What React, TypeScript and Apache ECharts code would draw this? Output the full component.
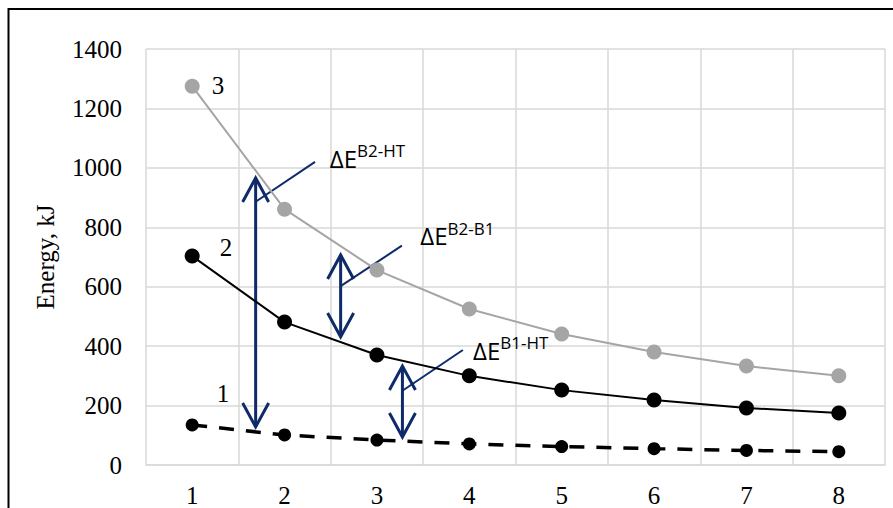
import React, { useEffect, useRef } from "react";
import * as echarts from "echarts";

// ---- data ----
const categories = ["1", "2", "3", "4", "5", "6", "7", "8"];
const curve3Values = [1275, 861, 656, 525, 441, 380, 333, 300];
const curve2Values = [703, 481, 370, 300, 252, 219, 192, 175];
const curve1Values = [135, 101, 84, 71, 62, 55, 49, 45];
const curveNames = ["1", "2", "3"];
const yMin = 0;
const yMax = 1400;
const yStep = 200;

// ---- annotations (data coordinates: x on 0.5..8.5 scale, y in kJ) ----
const arrowX = [1.687, 2.607, 3.276];
const arrowTop = [966, 707, 333];
const arrowBottom = [128, 431, 94];
const leaderStartY = [886, 602, 250];
const leaderEndX = [2.33, 3.27, 3.93];
const leaderEndY = [1020, 738, 387];
const labelX = [2.49, 3.47, 4.04];
const labelY = [1033, 771, 386];
const labelSup = ["B2-HT", "B2-B1", "B1-HT"];

const NAVY = "#0E2A6A";
const SERIF = "'Liberation Serif', 'Times New Roman', serif";
const SANS = "'Open Sans', 'Noto Sans', sans-serif";

function firstLabel(values: number[], name: string, offset: number[], distance: number) {
  return values.map((v, i) =>
    i === 0
      ? {
          value: v,
          label: {
            show: true,
            formatter: name,
            position: "right",
            distance,
            offset,
            fontFamily: SERIF,
            fontSize: 25,
            color: "#000",
          },
        }
      : v
  );
}

export default function App() {
  const ref = useRef<HTMLDivElement>(null);
  useEffect(() => {
    if (!ref.current) return;
    const chart = echarts.init(ref.current, undefined, { renderer: "svg" });
    const annotationData = arrowX.map((x, i) => [
      x,
      arrowTop[i],
      arrowBottom[i],
      leaderStartY[i],
      leaderEndX[i],
      leaderEndY[i],
      labelX[i],
      labelY[i],
    ]);
    chart.setOption({
      animation: false,
      backgroundColor: "#fff",
      grid: { left: 146, right: 8, top: 49, bottom: 43, containLabel: false },
      xAxis: [
        {
          type: "category",
          data: categories,
          boundaryGap: true,
          axisLine: { show: true, lineStyle: { color: "#D9D9D9", width: 1.5 } },
          axisTick: { show: false },
          axisLabel: { fontFamily: SERIF, fontSize: 25, color: "#000", margin: 18 },
          splitLine: { show: true, lineStyle: { color: "#D9D9D9", width: 1.5 } },
        },
        { type: "value", min: 0.5, max: 8.5, show: false },
      ],
      yAxis: {
        type: "value",
        min: yMin,
        max: yMax,
        interval: yStep,
        name: "Energy, kJ",
        nameLocation: "middle",
        nameRotate: 90,
        nameGap: 88,
        nameTextStyle: { fontFamily: SERIF, fontSize: 25, color: "#000" },
        axisLine: { show: false },
        axisTick: { show: false },
        axisLabel: {
          fontFamily: SERIF,
          fontSize: 25,
          color: "#000",
          margin: 24,
          formatter: (v: number) => String(v),
        },
        splitLine: { show: true, lineStyle: { color: "#D9D9D9", width: 1.5 } },
      },
      graphic: [
        {
          type: "rect",
          shape: { x: 8.5, y: 9, width: 1000, height: 1000 },
          style: { fill: "none", stroke: "#000", lineWidth: 2 },
          silent: true,
        },
      ],
      series: [
        {
          type: "line",
          name: curveNames[0],
          data: firstLabel(curve1Values, curveNames[0], [0, -31], 18),
          symbol: "circle",
          symbolSize: 13,
          itemStyle: { color: "#000" },
          lineStyle: { color: "#000", width: 3.5, type: [15, 12] },
          silent: true,
        },
        {
          type: "line",
          name: curveNames[1],
          data: firstLabel(curve2Values, curveNames[1], [0, -9], 20),
          symbol: "circle",
          symbolSize: 15,
          itemStyle: { color: "#000" },
          lineStyle: { color: "#000", width: 2 },
          silent: true,
        },
        {
          type: "line",
          name: curveNames[2],
          data: firstLabel(curve3Values, curveNames[2], [0, -1], 12),
          symbol: "circle",
          symbolSize: 15,
          itemStyle: { color: "#A5A5A5" },
          lineStyle: { color: "#A5A5A5", width: 2 },
          silent: true,
        },
        {
          type: "custom",
          xAxisIndex: 1,
          yAxisIndex: 0,
          silent: true,
          clip: false,
          data: annotationData,
          encode: { x: 0, y: 1 },
          renderItem: (params: any, api: any) => {
            const i = params.dataIndex;
            const top = api.coord([api.value(0), api.value(1)]);
            const bot = api.coord([api.value(0), api.value(2)]);
            const ls = api.coord([api.value(0), api.value(3)]);
            const le = api.coord([api.value(4), api.value(5)]);
            const lb = api.coord([api.value(6), api.value(7)]);
            const hw = 13;
            const hl = 24;
            return {
              type: "group",
              children: [
                {
                  type: "line",
                  shape: { x1: top[0], y1: top[1], x2: bot[0], y2: bot[1] },
                  style: { stroke: NAVY, lineWidth: 3 },
                },
                {
                  type: "polyline",
                  shape: {
                    points: [
                      [top[0] - hw, top[1] + hl],
                      [top[0], top[1]],
                      [top[0] + hw, top[1] + hl],
                    ],
                  },
                  style: { stroke: NAVY, lineWidth: 3, fill: "none" },
                },
                {
                  type: "polyline",
                  shape: {
                    points: [
                      [bot[0] - hw, bot[1] - hl],
                      [bot[0], bot[1]],
                      [bot[0] + hw, bot[1] - hl],
                    ],
                  },
                  style: { stroke: NAVY, lineWidth: 3, fill: "none" },
                },
                {
                  type: "line",
                  shape: { x1: ls[0], y1: ls[1], x2: le[0], y2: le[1] },
                  style: { stroke: NAVY, lineWidth: 2 },
                },
                {
                  type: "text",
                  x: lb[0],
                  y: lb[1],
                  style: {
                    text: "{b|ΔE}{s|" + labelSup[i] + "}",
                    align: "left",
                    verticalAlign: "middle",
                    rich: {
                      b: { fontFamily: SANS, fontSize: 24, lineHeight: 32, fill: "#000" },
                      s: {
                        fontFamily: SANS,
                        fontSize: 17,
                        lineHeight: 17,
                        verticalAlign: "top",
                        fill: "#000",
                      },
                    },
                  },
                },
              ],
            };
          },
        },
      ],
    });
    return () => chart.dispose();
  }, []);
  return (
    <div
      ref={ref}
      style={{ position: "absolute", left: 0, top: 0, width: 893, height: 508, background: "#fff" }}
    />
  );
}
